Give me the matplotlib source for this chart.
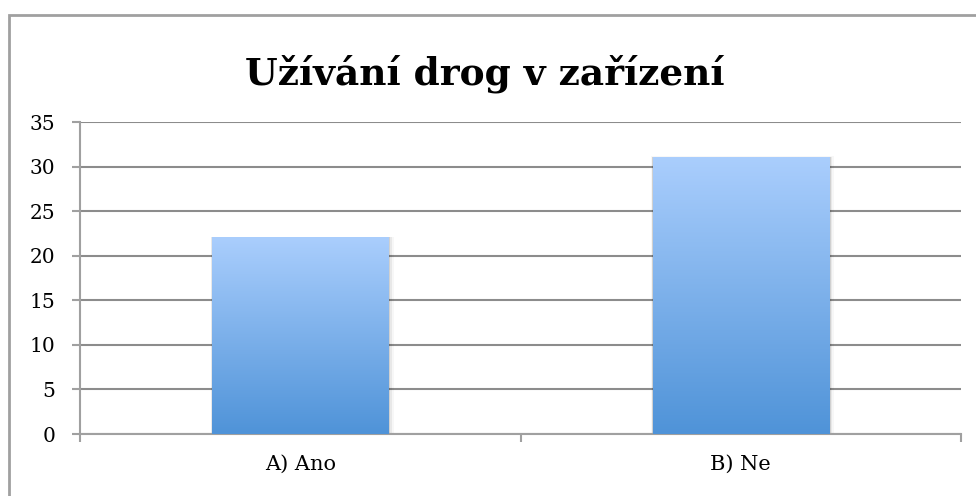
import matplotlib.pyplot as plt
import matplotlib.patches as patches
import numpy as np
from matplotlib.colors import LinearSegmentedColormap

categories = ["A) Ano", "B) Ne"]
values = [22, 31]
y_ticks = [0, 5, 10, 15, 20, 25, 30, 35]
title = "Užívání drog v zařízení"

plt.rcParams["font.family"] = ["DejaVu Serif"]

fig = plt.figure(figsize=(9.76, 4.96), dpi=100)
ax = fig.add_axes([0.082, 0.125, 0.9026, 0.629])

# outer chart frame (only left and top edges visible)
frame = patches.Rectangle((9 / 976, -0.1), 1.2, 1 - 15 / 496 + 0.1,
                          transform=fig.transFigure, fill=False,
                          edgecolor="#a0a0a0", linewidth=2, zorder=0)
fig.add_artist(frame)

x = np.arange(len(categories))
bars = ax.bar(x, values, width=0.4, color="none", edgecolor="none", zorder=3)

cmap = LinearSegmentedColormap.from_list("grad", ["#4f93d8", "#aacefd"])
grad = np.linspace(0, 1, 256).reshape(-1, 1)
for bar in bars:
    bx, by = bar.get_x(), bar.get_y()
    bw, bh = bar.get_width(), bar.get_height()
    # soft shadow
    for i, a in enumerate([0.10, 0.06, 0.03]):
        off = 0.004 * (i + 1)
        sh = patches.Rectangle((bx - off * 0.3, by), bw + off * 1.3, bh + 0.15 * (i + 1) * 0.3,
                               facecolor="black", alpha=a, edgecolor="none", zorder=2)
        ax.add_patch(sh)
    ax.imshow(grad, cmap=cmap, origin="lower", aspect="auto",
              extent=[bx, bx + bw, by, by + bh], zorder=3)

ax.set_xlim(-0.5, 1.5)
ax.set_ylim(0, 35)
ax.set_yticks(y_ticks)
ax.set_xticks(x)
ax.set_xticklabels(categories)
ax.set_xticks([-0.5, 0.5, 1.5], minor=True)
ax.yaxis.grid(True, color="#8c8c8c", linewidth=1.5, zorder=1)
ax.set_axisbelow(True)

for s in ["top", "right"]:
    ax.spines[s].set_visible(False)
for s in ["left", "bottom"]:
    ax.spines[s].set_color("#a0a0a0")
    ax.spines[s].set_linewidth(1.5)

ax.tick_params(axis="y", which="major", length=6, width=1.5, color="#a0a0a0",
               labelsize=14.5, pad=12)
ax.tick_params(axis="x", which="major", length=0, labelsize=15, pad=15)
ax.tick_params(axis="x", which="minor", length=6, width=1.5, color="#a0a0a0")

fig.text(0.497, 0.852, title, ha="center", va="center", fontsize=27,
         fontweight="bold")

fig.savefig("out.png", dpi=100)
